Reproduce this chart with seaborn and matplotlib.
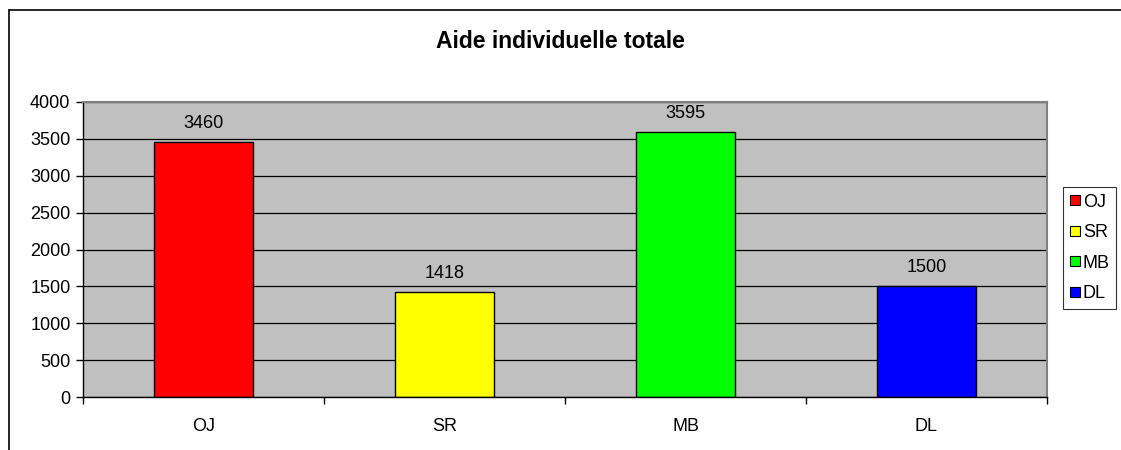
import numpy as np
import pandas as pd
import seaborn as sns
import matplotlib.pyplot as plt
from matplotlib.lines import Line2D
from matplotlib.ticker import FixedLocator

## data
categories = ["OJ", "SR", "MB", "DL"]
values = [3460, 1418, 3595, 1500]
colors = ["#FF0000", "#FFFF00", "#00FF00", "#0000FF"]
y_ticks = [0, 500, 1000, 1500, 2000, 2500, 3000, 3500, 4000]
title = "Aide individuelle totale"

sns.set_theme(style="white")
plt.rcParams['font.family'] = ['Liberation Sans', 'DejaVu Sans']
plt.rcParams['text.color'] = "black"
plt.rcParams['xtick.color'] = "black"
plt.rcParams['ytick.color'] = "black"

FS = 13

df = pd.DataFrame({"cat": categories, "val": values})

fig = plt.figure(figsize=(11.21, 4.5), dpi=100)
ax = fig.add_axes([83 / 1121, 1 - 397 / 450, (1047 - 83) / 1121, (397 - 102) / 450])

sns.barplot(data=df, x="cat", y="val", hue="cat", palette=colors,
            order=categories, hue_order=categories, dodge=False, saturation=1,
            width=0.41, edgecolor="black", linewidth=1, ax=ax, legend=False)

ax.set_facecolor("#C0C0C0")
ax.set_ylim(0, 4000)
ax.set_xlim(-0.5, len(categories) - 0.5)
ax.set_yticks(y_ticks)
ax.yaxis.grid(True, color="black", linewidth=0.9)
ax.set_axisbelow(True)
ax.set_xlabel("")
ax.set_ylabel("")

# spines: grey frame on top/right, black axes on left/bottom
for side in ["top", "right"]:
    ax.spines[side].set_color("#808080")
    ax.spines[side].set_linewidth(1.5)
for side in ["left", "bottom"]:
    ax.spines[side].set_color("black")
    ax.spines[side].set_linewidth(1)

ax.tick_params(axis="y", which="major", length=5, width=1, color="black",
               labelsize=FS, pad=4, left=True, labelcolor="black")
ax.tick_params(axis="x", which="major", length=0, labelsize=FS, pad=15,
               labelcolor="black")
ax.xaxis.set_minor_locator(FixedLocator(np.arange(-0.5, len(categories), 1.0)))
ax.tick_params(axis="x", which="minor", length=5, width=1, color="black", bottom=True)

# value labels
for i, v in enumerate(values):
    ax.text(i, v + 140, str(v), ha="center", va="bottom", fontsize=FS, color="black")

fig.text(0.5, 1 - 42 / 450, title, ha="center", va="center",
         fontsize=16.5, fontweight="bold", color="black")

# legend
handles = [Line2D([0], [0], marker="s", linestyle="none", markersize=7.5,
                  markerfacecolor=c, markeredgecolor="black", markeredgewidth=0.8)
           for c in colors]
leg = fig.legend(handles, categories, loc="center left",
                 bbox_to_anchor=(1063 / 1121, 1 - 248 / 450),
                 frameon=True, fancybox=False, fontsize=FS,
                 handlelength=0.6, handletextpad=0.15, labelspacing=0.75,
                 borderpad=0.35, borderaxespad=0)
leg.get_frame().set_edgecolor("black")
leg.get_frame().set_linewidth(0.8)

# chart outer frame (top and left edges visible)
fig.add_artist(Line2D([9 / 1121, 1], [1 - 10 / 450, 1 - 10 / 450],
                      transform=fig.transFigure, color="black", linewidth=1.2))
fig.add_artist(Line2D([9 / 1121, 9 / 1121], [0, 1 - 10 / 450],
                      transform=fig.transFigure, color="black", linewidth=1.2))

fig.savefig("out.png", dpi=100)
